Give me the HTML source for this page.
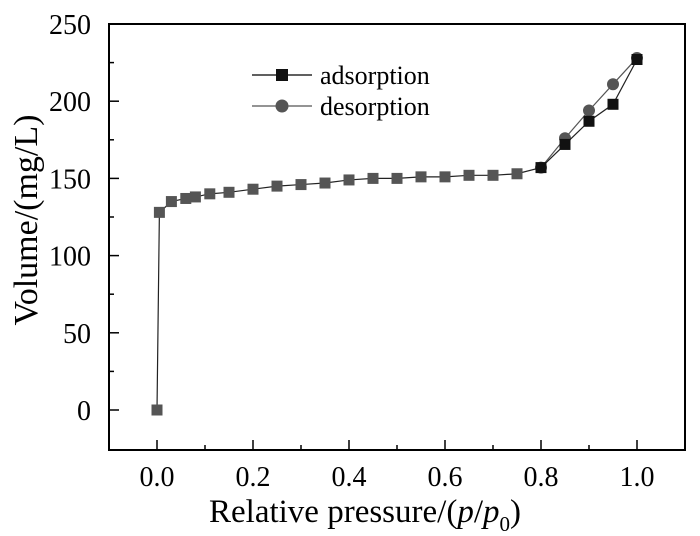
<!DOCTYPE html>
<html><head><meta charset="utf-8"><style>
body{margin:0;background:#fff}
svg{display:block;font-family:"Liberation Serif",serif}
</style></head><body>
<svg id="chart" width="700" height="536" viewBox="0 0 700 536" xmlns="http://www.w3.org/2000/svg">
<rect x="109" y="24" width="576" height="426" fill="none" stroke="#000" stroke-width="2"/>
<g id="ticks"></g><g id="series"></g>
<g>
<line x1="252" y1="75" x2="312" y2="75" stroke="#000" stroke-width="1.3"/>
<rect x="276" y="69" width="12" height="12" fill="#111"/>
<text x="320" y="84" font-size="26">adsorption</text>
<line x1="252" y1="106" x2="312" y2="106" stroke="#555" stroke-width="1.3"/>
<circle cx="282" cy="106" r="6.5" fill="#555"/>
<text x="320" y="115" font-size="26">desorption</text>
</g>
<text x="365" y="522" font-size="33" text-anchor="middle">Relative pressure/(<tspan font-style="italic">p</tspan>/<tspan font-style="italic">p</tspan><tspan font-size="21" dy="9">0</tspan><tspan dy="-9">)</tspan></text>
<text transform="translate(37,220) rotate(-90)" font-size="34" text-anchor="middle">Volume/(mg/L)</text>
</svg>
<script>
const xTicks=[0,0.2,0.4,0.6,0.8,1.0];
const xTickLabels=["0.0","0.2","0.4","0.6","0.8","1.0"];
const yTicks=[0,50,100,150,200,250];
const adsX=[0,0.005,0.03,0.06,0.08,0.11,0.15,0.2,0.25,0.3,0.35,0.4,0.45,0.5,0.55,0.6,0.65,0.7,0.75,0.8,0.85,0.9,0.95,1.0];
const adsY=[0,128,135,137,138,140,141,143,145,146,147,149,150,150,151,151,152,152,153,157,172,187,198,227];
const desX=[1.0,0.95,0.9,0.85,0.8];
const desY=[228,211,194,176,157];
const NS="http://www.w3.org/2000/svg";
const X=v=>157+v*480, Y=v=>410-v*1.544;
function mk(t,a,p){const e=document.createElementNS(NS,t);for(const k in a)e.setAttribute(k,a[k]);p.appendChild(e);return e;}
const tk=document.getElementById('ticks'), sr=document.getElementById('series');
for(let i=0;i<=11;i++){const v=-0.1+i*0.1;if(v<-0.05)continue;const x=X(v);const major=Math.round(v*10)%2===0;
 const l=mk('line',{x1:x,x2:x,y1:450,y2:major?440:445,stroke:'#000','stroke-width':1.5},tk);
 
 }
xTicks.forEach((v,i)=>{const t=mk('text',{x:X(v),y:486,'font-size':28,'text-anchor':'middle'},tk);t.textContent=xTickLabels[i];
 
 });
for(let v=0;v<=250;v+=25){const y=Y(v);const major=v%50===0;
 const l=mk('line',{x1:109,x2:major?119:114,y1:y,y2:y,stroke:'#000','stroke-width':1.5},tk);
 
 }
yTicks.forEach(v=>{const t=mk('text',{x:91,y:Y(v)+10,'font-size':28,'text-anchor':'end'},tk);t.textContent=String(v);
 
 });
const dl=mk('polyline',{points:desX.map((x,i)=>X(x)+','+Y(desY[i])).join(' '),fill:'none',stroke:'#555','stroke-width':1.2},sr);


desX.forEach((x,i)=>{const c=mk('circle',{cx:X(x),cy:Y(desY[i]),r:6,fill:'#555'},sr);
 
 });
const al=mk('polyline',{points:adsX.map((x,i)=>X(x)+','+Y(adsY[i])).join(' '),fill:'none',stroke:'#222','stroke-width':1.2},sr);


adsX.forEach((x,i)=>{const r=mk('rect',{x:X(x)-5.5,y:Y(adsY[i])-5.5,width:11,height:11,fill:x>=0.8?'#111':'#555'},sr);
 
 });
</script>
</body></html>
